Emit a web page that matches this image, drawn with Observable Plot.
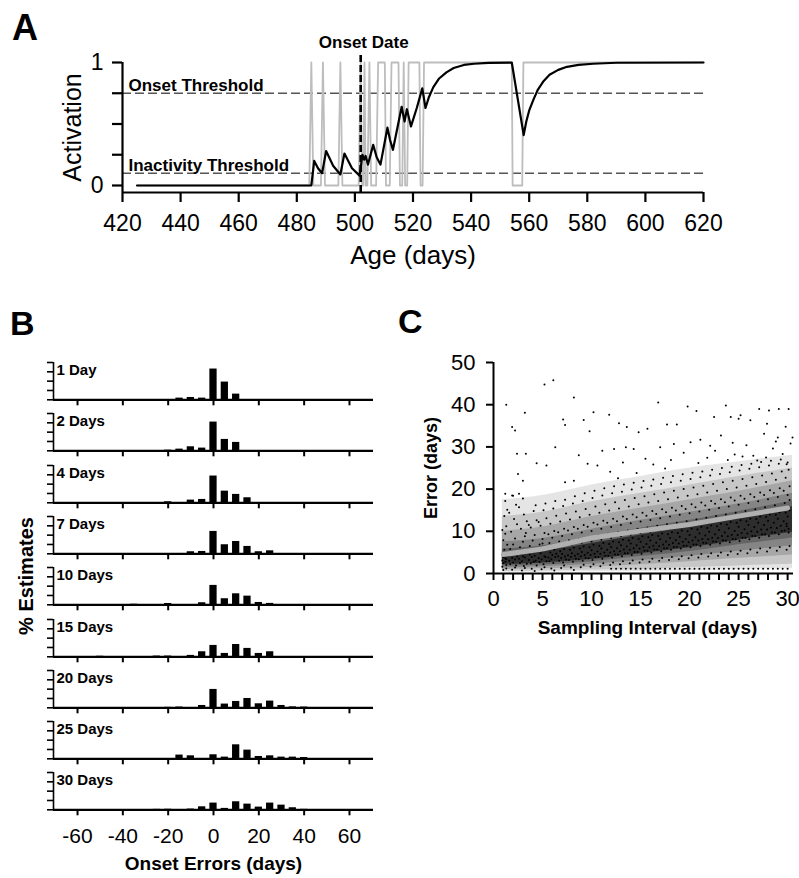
<!DOCTYPE html>
<html><head><meta charset="utf-8">
<script src="https://cdn.jsdelivr.net/npm/d3@7"></script>
<script src="https://cdn.jsdelivr.net/npm/@observablehq/plot@0.6"></script>
<style>
body{margin:0;background:#fff;}
#root{position:relative;width:799px;height:878px;overflow:hidden;font-family:"Liberation Sans",Arial,sans-serif;color:#000;}
.abs{position:absolute;}
.letter{position:absolute;font-weight:bold;line-height:1;white-space:nowrap;}
</style></head><body><div id="root"></div>
<script>
// ---------- Panel A data ----------
const grayAge = [425,484.3,485,485.7,488.3,489,489.7,494.3,495,495.7,501.3,502,502.5,502.9,503.3,503.7,504.3,505,505.6,507.3,508,510.3,510.7,512,512.6,515,515.5,516.3,516.8,517.3,518,518.5,522.2,522.6,523.3,523.8,554,554.3,557.6,558,620];
const grayActive = [0,0,1,0,0,1,0,0,1,0,0,1,0,0,1,0,0,1,0,0,1,1,0,0,1,1,0,0,1,0,0,1,1,0,0,1,1,0,0,1,1];
const blackAge = [425,485,486,487.3,488.7,490.1,492.5,495,496.4,499,501.6,502.6,503.2,503.7,504.5,506.3,507.5,508.8,511.2,512.1,513.1,516.1,517.1,517.9,519.3,521.3,523.2,524.3,525.5,527,529,531.5,534,537.5,541,546,554,558.1,559,560,561.5,563,565,567,570,573,577,582,590,620];
const blackActivation = [0,0,0.2,0.14,0.1,0.28,0.16,0.09,0.26,0.14,0.08,0.25,0.21,0.24,0.17,0.33,0.23,0.17,0.47,0.37,0.29,0.64,0.52,0.62,0.48,0.63,0.79,0.63,0.72,0.8,0.87,0.92,0.955,0.98,0.99,0.997,1,0.41,0.52,0.61,0.7,0.78,0.85,0.9,0.94,0.965,0.98,0.99,0.998,1];
const onsetThreshold = 0.75, inactivityThreshold = 0.1, onsetDate = 502;
const ageTicks = [420,440,460,480,500,520,540,560,580,600,620];
const activationTicks = [0,0.25,0.5,0.75,1];

// ---------- Panel B data ----------
const intervalLabels = ["1 Day","2 Days","4 Days","7 Days","10 Days","15 Days","20 Days","25 Days","30 Days"];
const errorBins = [-50,-45,-40,-35,-30,-25,-20,-15,-10,-5,0,5,10,15,20,25,30,35,40];
const pct1  = [0,0,0,0,0,0,0,1.8,2.5,1.8,33,19,6.1,0,0,0,0,0,0];
const pct2  = [0,0,0,0,0,0,0.7,1.8,4.3,2.9,30.8,12.2,9,0,0,0,0,0,0];
const pct4  = [0,0,0,0,0,0,1.1,0,2.9,3.6,28.7,12.5,9,5.4,0,0,0,0,0];
const pct7  = [0,0,0,0,0,0,0,0,2.2,2.5,24,9.7,13.2,7.9,2.2,3.2,0,0,0];
const pct10 = [0,0,0,0.6,0,0,1.4,0,0,2.2,20.8,6.5,11.8,9.3,2.5,1.5,0,0,0];
const pct15 = [0.6,0,0,0,0,0.8,0.8,0,1.5,5.4,12.2,3.6,13.2,9,3.6,5.4,0,0,0];
const pct20 = [0,0,0,0,0,0,0.5,0.8,0,2.5,19.7,4,6.8,10,4.3,7.2,2.5,1,0.8];
const pct25 = [0,0,0,0,0,0,0,4,3.2,0,4.3,1.8,15,9.3,2.5,3.2,1.8,1.8,1.4];
const pct30 = [0,0,0,0,0,0.5,0.6,0,0.8,3.2,7.2,1.5,8.6,6.1,2.9,7.2,5,2.2,0.5];
const pctRows = [pct1,pct2,pct4,pct7,pct10,pct15,pct20,pct25,pct30];
const errorTicks = [-60,-40,-20,0,20,40,60];
const pctTicks = [0,10,20,30,40];

// ---------- Panel C data ----------
const scatterPoints = `
0.9 3.1,1.0 2.4,1.1 4.2,1.2 3.6,1.3 2.0,1.4 4.8,1.0 3.9,1.2 2.8,1.3 3.4,0.9 1.6,1.1 5.6,1.4 6.8,1.0 7.9,1.2 9.4,1.3 11.2,1.1 13.6,0.9 10.3,1.4 15.1,1.0 0.8,1.3 1.2,1.2 17.2,
1.6 3.0,1.7 2.2,1.8 4.4,1.9 3.7,2.0 2.6,2.1 4.9,2.2 3.3,2.3 1.9,2.4 4.0,1.7 5.8,2.0 6.9,2.2 8.3,1.8 9.9,2.4 11.7,2.1 12.9,1.6 14.4,2.3 16.3,1.9 0.9,2.2 1.4,2.0 18.4,
2.6 3.5,2.7 2.5,2.8 4.6,2.9 2.9,3.0 4.1,3.1 1.8,3.2 3.8,3.3 5.0,3.4 2.3,2.7 6.2,3.0 7.5,3.2 8.8,2.8 10.6,3.4 12.4,3.1 14.0,2.6 15.7,3.3 9.6,2.9 0.7,3.2 1.3,3.0 17.8,
3.6 3.2,3.7 4.5,3.8 2.4,3.9 3.9,4.0 5.1,4.1 2.8,4.2 4.2,4.3 3.0,4.4 1.9,3.7 6.5,4.0 7.8,4.2 9.1,3.8 10.9,4.4 12.6,4.1 14.8,3.6 11.5,4.3 16.2,3.9 1.1,4.2 0.6,4.0 5.8,
4.6 3.6,4.7 2.7,4.8 4.8,4.9 3.3,5.0 5.3,5.1 2.2,5.2 4.1,5.3 3.9,5.4 2.9,4.7 6.9,5.0 8.2,5.2 9.6,4.8 11.3,5.4 13.1,5.1 15.0,4.6 12.2,5.3 16.6,4.9 1.0,5.2 1.5,5.0 7.1,
5.6 3.8,5.7 2.9,5.8 5.0,5.9 3.4,6.0 4.4,6.1 2.5,6.2 5.6,6.3 3.9,6.4 4.7,5.7 7.2,6.0 8.5,6.2 10.1,5.8 11.8,6.4 13.7,6.1 15.4,5.6 9.3,6.3 17.2,5.9 1.2,6.2 0.7,6.0 6.3,
6.6 4.1,6.7 3.0,6.8 5.3,6.9 3.7,7.0 4.6,7.1 2.6,7.2 5.8,7.3 4.0,7.4 3.3,6.7 7.6,7.0 8.9,7.2 10.6,6.8 12.3,7.4 14.2,7.1 16.0,6.6 9.8,7.3 17.5,6.9 1.3,7.2 1.9,7.0 6.6,
7.6 4.3,7.7 3.2,7.8 5.6,7.9 3.9,8.0 4.8,8.1 2.8,8.2 6.1,8.3 4.2,8.4 3.5,7.7 7.9,8.0 9.3,8.2 11.0,7.8 12.8,8.4 14.7,8.1 16.6,7.6 10.2,8.3 18.3,7.9 1.4,8.2 0.8,8.0 6.9,
8.6 4.6,8.7 3.4,8.8 5.9,8.9 4.1,9.0 5.1,9.1 3.0,9.2 6.4,9.3 4.4,9.4 3.7,8.7 8.2,9.0 9.7,9.2 11.5,8.8 13.3,9.4 15.3,9.1 17.2,8.6 10.6,9.3 19.0,8.9 1.5,9.2 2.1,9.0 7.3,
9.6 4.9,9.7 3.6,9.8 6.2,9.9 4.4,10.0 5.5,10.1 3.2,10.2 6.8,10.3 4.7,10.4 3.9,9.7 8.6,10.0 10.1,10.2 12.0,9.8 13.9,10.4 15.9,10.1 17.9,9.6 11.1,10.3 19.6,9.9 1.6,10.2 2.2,10.0 7.6,
10.6 5.2,10.7 3.9,10.8 6.6,10.9 4.7,11.0 5.9,11.1 3.5,11.2 7.2,11.3 5.0,11.4 4.2,10.7 9.0,11.0 10.6,11.2 12.5,10.8 14.4,11.4 16.4,11.1 18.5,10.6 11.6,11.3 20.2,10.9 1.7,11.2 2.4,11.0 8.0,
11.6 5.6,11.7 4.2,11.8 7.0,11.9 5.0,12.0 6.3,12.1 3.8,12.2 7.6,12.3 5.3,12.4 4.5,11.7 9.4,12.0 11.0,12.2 13.0,11.8 14.9,12.4 16.9,12.1 19.0,11.6 12.0,12.3 20.7,11.9 2.0,12.2 2.6,12.0 8.4,
12.6 6.0,12.7 4.5,12.8 7.4,12.9 5.3,13.0 6.7,13.1 4.1,13.2 8.0,13.3 5.7,13.4 4.8,12.7 9.8,13.0 11.5,13.2 13.5,12.8 15.4,13.4 17.4,13.1 19.4,12.6 12.4,13.3 21.1,12.9 2.2,13.2 2.9,13.0 8.8,
13.6 6.4,13.7 4.8,13.8 7.8,13.9 5.6,14.0 7.1,14.1 4.4,14.2 8.4,14.3 6.0,14.4 5.1,13.7 10.2,14.0 11.9,14.2 14.0,13.8 15.9,14.4 17.9,14.1 19.9,13.6 12.9,14.3 21.5,13.9 2.4,14.2 3.1,14.0 9.2,
14.6 6.7,14.7 5.1,14.8 8.2,14.9 5.9,15.0 7.5,15.1 4.7,15.2 8.8,15.3 6.3,15.4 5.4,14.7 10.6,15.0 12.3,15.2 14.4,14.8 16.4,15.4 18.3,15.1 20.4,14.6 13.3,15.3 21.9,14.9 2.6,15.2 3.3,15.0 9.6,
15.6 7.0,15.7 5.4,15.8 8.6,15.9 6.2,16.0 7.8,16.1 5.0,16.2 9.1,16.3 6.6,16.4 5.7,15.7 10.9,16.0 12.7,16.2 14.8,15.8 16.8,16.4 18.8,16.1 20.8,15.6 13.7,16.3 22.3,15.9 2.8,16.2 3.5,16.0 9.9,
16.6 7.3,16.7 5.7,16.8 8.9,16.9 6.5,17.0 8.1,17.1 5.3,17.2 9.5,17.3 6.9,17.4 6.0,16.7 11.3,17.0 13.1,17.2 15.2,16.8 17.2,17.4 19.2,17.1 21.2,16.6 14.1,17.3 22.7,16.9 3.0,17.2 3.7,17.0 10.3,
17.6 7.6,17.7 6.0,17.8 9.3,17.9 6.8,18.0 8.4,18.1 5.6,18.2 9.8,18.3 7.2,18.4 6.3,17.7 11.7,18.0 13.5,18.2 15.6,17.8 17.6,18.4 19.6,18.1 21.6,17.6 14.5,18.3 23.1,17.9 3.2,18.2 3.9,18.0 10.6,
18.6 7.9,18.7 6.3,18.8 9.6,18.9 7.1,19.0 8.7,19.1 5.9,19.2 10.2,19.3 7.5,19.4 6.6,18.7 12.0,19.0 13.9,19.2 16.0,18.8 18.0,19.4 20.0,19.1 22.0,18.6 14.9,19.3 23.5,18.9 3.4,19.2 4.1,19.0 11.0,
19.6 8.2,19.7 6.6,19.8 10.0,19.9 7.4,20.0 9.1,20.1 6.2,20.2 10.6,20.3 7.8,20.4 6.9,19.7 12.4,20.0 14.3,20.2 16.4,19.8 18.4,20.4 20.4,20.1 22.4,19.6 15.3,20.3 23.9,19.9 3.6,20.2 4.3,20.0 11.3,
20.6 8.6,20.7 6.9,20.8 10.4,20.9 7.8,21.0 9.5,21.1 6.5,21.2 11.0,21.3 8.2,21.4 7.3,20.7 12.8,21.0 14.7,21.2 16.8,20.8 18.8,21.4 20.8,21.1 22.8,20.6 15.7,21.3 24.2,20.9 3.8,21.2 4.6,21.0 11.7,
21.6 9.0,21.7 7.2,21.8 10.8,21.9 8.1,22.0 9.9,22.1 6.8,22.2 11.4,22.3 8.5,22.4 7.6,21.7 13.2,22.0 15.1,22.2 17.2,21.8 19.2,22.4 21.2,22.1 23.2,21.6 16.1,22.3 24.6,21.9 4.0,22.2 4.8,22.0 12.1,
22.6 9.3,22.7 7.5,22.8 11.2,22.9 8.4,23.0 10.3,23.1 7.1,23.2 11.8,23.3 8.9,23.4 7.9,22.7 13.6,23.0 15.5,23.2 17.6,22.8 19.6,23.4 21.6,23.1 23.6,22.6 16.5,23.3 25.0,22.9 4.2,23.2 5.0,23.0 12.5,
23.6 9.7,23.7 7.8,23.8 11.6,23.9 8.8,24.0 10.7,24.1 7.4,24.2 12.2,24.3 9.2,24.4 8.2,23.7 14.0,24.0 15.9,24.2 18.0,23.8 20.0,24.4 22.0,24.1 24.0,23.6 16.9,24.3 25.3,23.9 4.4,24.2 5.2,24.0 12.9,
24.6 10.1,24.7 8.1,24.8 12.0,24.9 9.1,25.0 11.1,25.1 7.7,25.2 12.6,25.3 9.6,25.4 8.5,24.7 14.4,25.0 16.3,25.2 18.4,24.8 20.4,25.4 22.4,25.1 24.4,24.6 17.3,25.3 25.7,24.9 4.6,25.2 5.4,25.0 13.3,
25.6 10.5,25.7 8.5,25.8 12.4,25.9 9.5,26.0 11.5,26.1 8.1,26.2 13.0,26.3 10.0,26.4 8.9,25.7 14.8,26.0 16.7,26.2 18.8,25.8 20.8,26.4 22.8,26.1 24.8,25.6 17.7,26.3 26.0,25.9 4.8,26.2 5.7,26.0 13.7,
26.6 11.0,26.7 8.9,26.8 12.9,26.9 9.9,27.0 12.0,27.1 8.5,27.2 13.5,27.3 10.4,27.4 9.3,26.7 15.2,27.0 17.1,27.2 19.2,26.8 21.2,27.4 23.2,27.1 25.2,26.6 18.1,27.3 26.4,26.9 5.0,27.2 5.9,27.0 14.1,
27.6 11.5,27.7 9.3,27.8 13.4,27.9 10.4,28.0 12.5,28.1 8.9,28.2 14.0,28.3 10.9,28.4 9.7,27.7 15.7,28.0 17.6,28.2 19.7,27.8 21.7,28.4 23.7,28.1 25.6,27.6 18.6,28.3 26.7,27.9 5.2,28.2 6.1,28.0 14.6,
28.6 12.0,28.7 9.7,28.8 13.9,28.9 10.8,29.0 13.0,29.1 9.3,29.2 14.5,29.3 11.3,29.4 10.1,28.7 16.2,29.0 18.1,29.2 20.2,28.8 22.2,29.4 24.2,29.1 26.0,28.6 19.1,29.3 27.0,28.9 5.4,29.2 6.3,29.0 15.1,
29.6 12.4,29.7 10.2,29.8 14.4,29.9 11.2,30.0 13.5,30.1 9.7,30.2 15.0,29.9 11.8,30.1 10.6,29.7 16.7,30.0 18.6,30.2 20.7,29.8 22.7,30.1 24.6,30.0 26.3,29.6 19.6,30.2 17.4,29.9 5.6,30.2 6.5,30.0 15.6`;
const outlierPoints = `1.3 40.0,6.1 45.8,5.2 44.8,8.2 41.7,16.8 40.5,19.8 39.6,20.7 38.5,23.7 39.8,27.1 39.0,28.1 38.6,29.1 39.0,30.1 39.0,3.2 38.1,10.2 38.2,1.9 34.7,2.2 33.9,9.2 36.4,7.1 36.5,7.3 35.2,9.8 33.7,11.8 37.6,12.8 35.6,13.6 34.7,14.8 33.5,15.7 34.3,17.7 35.3,18.7 35.3,22.5 37.1,24.2 37.1,25.0 36.7,25.2 37.5,26.2 36.3,27.9 35.5,29.8 34.8,30.5 32.2,29.0 32.2,27.6 33.1,23.2 32.7,21.1 31.7,20.1 31.1,18.4 30.7,17.0 29.9,14.3 29.5,13.5 29.9,12.3 29.5,11.1 29.1,8.7 28.0,6.3 29.9,2.4 28.4,3.3 28.4,4.4 26.1,5.4 25.6,3.0 22.0,2.5 23.6,1.2 18.9,1.9 18.5,2.6 18.9,7.3 21.6,8.2 22.0,9.6 26.0,10.6 25.6,15.5 27.2,16.3 25.8,19.4 28.6,21.8 27.4,22.6 29.1,24.6 28.2,25.8 30.4,26.5 27.9,28.5 29.6,29.5 28.3,30.3 30.8,23.9 26.9,20.9 26.2,18.1 26.9,13.2 26.3,11.9 24.1,14.6 23.8,12.7 22.6,17.5 24.9,27.8 27.5,29.9 25.9,26.9 26.8,25.4 27.7,28.8 31.3,24.4 31.0,22.1 30.3`;
const floorX = [12,12.5,13,13.5,14,14.5,15,15.5,16,16.5,17,17.5,18,18.5,19,19.5,20,20.5,21,21.5,22,22.5,23,23.5,24,24.5,25,25.5,26,26.5,27,27.5,28,28.5,29,29.5,30];
const floorError = 1.1;
const fitInterval = [1,5,10,15,20,25,30];
const fitError = [4.5,5.8,8.4,10.1,11.6,13.6,15.5];
// nested density envelopes of the point cloud, outer to inner
const bandInterval = [0.9,5,10,15,20,25,30.5];
const envLow = [
  [0.3,0.3,0.4,0.5,0.7,0.9,1.1],
  [0.5,0.6,0.8,1.0,1.4,1.8,2.2],
  [0.9,1.1,1.5,2.1,2.8,3.6,4.4],
  [1.3,1.6,2.2,3.1,4.1,5.3,6.6],
  [1.7,2.0,2.8,4.0,5.2,6.8,8.4],
  [2.1,2.5,3.3,4.7,6.1,7.9,9.8]
];
const envHigh = [
  [17.5,18.5,21,23,25,26.5,28],
  [13.5,14.5,17,19,21,23,25],
  [10,11,13.5,15.5,17.5,19.5,22],
  [7.5,8.3,10.5,12.6,14.5,16.5,19],
  [5.8,6.6,8.6,10.7,12.6,14.7,17.2],
  [4.6,5.3,7.1,9.1,11.0,13.2,15.8]
];
const envOpacity = [0.1,0.13,0.16,0.2,0.24,0.55];
const intervalTicks = [0,1,2,3,4,5,6,7,8,9,10,11,12,13,14,15,16,17,18,19,20,21,22,23,24,25,26,27,28,29,30];
const errorAxisTicks = [0,10,20,30,40,50];

// ---------- helpers ----------
const FONT = "Liberation Sans, Arial, sans-serif";
const baseStyle = {background:"transparent", fontFamily:FONT, fontSize:"22px", color:"black", overflow:"visible"};
const root = document.getElementById("root");
function place(node, left, top){ const d=document.createElement("div"); d.className="abs"; d.style.left=left+"px"; d.style.top=top+"px"; d.appendChild(node); root.appendChild(d); return d; }
function letter(txt, left, baseline, size){ const d=document.createElement("div"); d.className="letter"; d.textContent=txt; d.style.fontSize=size+"px"; d.style.left=left+"px"; d.style.top=(baseline-0.8465*size)+"px"; root.appendChild(d); }
const parsePairs = s => s.trim().split(/,\s*/).map(p => { const [x,y]=p.trim().split(/\s+/).map(Number); return {x,y}; });

// ---------- Panel A ----------
const yMinA = -0.057;
const grayData = grayAge.map((a,i)=>({age:a, v:grayActive[i]}));
const blackData = blackAge.map((a,i)=>({age:a, v:blackActivation[i]}));
const plotA = Plot.plot({
  width:799, height:275, marginTop:62, marginLeft:122, marginRight:96, marginBottom:83,
  x:{domain:[420,620]}, y:{domain:[yMinA,1]}, style:{...baseStyle, fontSize:"23px"},
  marks:[
    Plot.ruleY([onsetThreshold],{x1:420,x2:620.7,stroke:"#555",strokeWidth:1.3,strokeDasharray:"9,4"}),
    Plot.ruleY([inactivityThreshold],{x1:420,x2:620.7,stroke:"#555",strokeWidth:1.5,strokeDasharray:"9,4"}),
    Plot.line(grayData,{x:"age",y:"v",stroke:"#bdbdbd",strokeWidth:1.8}),
    Plot.line(blackData,{x:"age",y:"v",stroke:"black",strokeWidth:2.2}),
    Plot.ruleX([onsetDate],{y1:yMinA,y2:1.08,stroke:"black",strokeWidth:2.6,strokeDasharray:"7,3"}),
    Plot.ruleY([yMinA],{x1:420,x2:620,stroke:"black",strokeWidth:2.2}),
    Plot.ruleX([420],{y1:yMinA,y2:1,stroke:"black",strokeWidth:2.2}),
    Plot.axisX({ticks:ageTicks, tickSize:10, tickPadding:12, strokeWidth:2.2, tickFormat:d=>String(d), label:null}),
    Plot.axisY({ticks:activationTicks, tickSize:10, tickPadding:9, strokeWidth:2.2, tickFormat:d=>(d===0||d===1)?String(d):"", label:null}),
    Plot.text(["Onset Threshold"],{x:420,y:onsetThreshold,dx:6,dy:-8.2,textAnchor:"start",fontWeight:"bold",fontSize:17}),
    Plot.text(["Inactivity Threshold"],{x:420,y:inactivityThreshold,dx:6,dy:-8.1,textAnchor:"start",fontWeight:"bold",fontSize:17}),
    Plot.text(["Onset Date"],{x:onsetDate,y:1,dx:3,dy:-20.4,fontWeight:"bold",fontSize:17}),
    Plot.text(["Activation"],{frameAnchor:"left",dx:-49.5,rotate:-90,textAnchor:"middle",lineAnchor:"middle",fontSize:25}),
    Plot.text(["Age (days)"],{frameAnchor:"bottom",dy:62.7,textAnchor:"middle",lineAnchor:"middle",fontSize:26})
  ]
});
place(plotA, 0, 0);
letter("A", 12, 40, 36);

// ---------- Panel B ----------
letter("B", 10, 335, 34);
const rowBase0 = 399.3, rowStep = 51.3, rowPlotH = 37.3;
intervalLabels.forEach((lab,i)=>{
  const last = i===intervalLabels.length-1;
  const h = last ? 112 : 56;
  const rows = errorBins.map((e,j)=>({e, p:pctRows[i][j]})).filter(d=>d.p>0);
  const marks = [
    Plot.rectY(rows,{x1:d=>d.e-1.6, x2:d=>d.e+1.6, y1:0, y2:"p", fill:"black"}),
    Plot.ruleY([0],{x1:-70.6,x2:70.6,stroke:"black",strokeWidth:2.2}),
    Plot.ruleX([-70.6],{y1:0,y2:40,stroke:"black",strokeWidth:1.6}),
    Plot.axisY({ticks:pctTicks, tickSize:6, strokeWidth:1.6, tickFormat:()=>"", label:null}),
    Plot.axisX({ticks:errorTicks, tickSize:6, strokeWidth:2, tickPadding:12, fontSize:21, tickFormat: last ? (d=>String(d)) : (()=>""), label:null}),
    Plot.text([lab],{frameAnchor:"top-left",dx:3,dy:2.3,lineAnchor:"top",fontWeight:"bold",fontSize:15})
  ];
  if (last) marks.push(Plot.text(["Onset Errors (days)"],{frameAnchor:"bottom",dy:54.3,textAnchor:"middle",lineAnchor:"middle",fontWeight:"bold",fontSize:19}));
  const p = Plot.plot({
    width:400, height:h, marginTop:5, marginLeft:53, marginRight:27, marginBottom:h-5-rowPlotH,
    x:{domain:[-70.6,70.6]}, y:{domain:[0,40]}, style:baseStyle, marks
  });
  place(p, 0, rowBase0 + rowStep*i - 5 - rowPlotH);
});
{
  const d=document.createElement("div");
  d.className="letter"; d.textContent="% Estimates"; d.style.fontSize="20px";
  d.style.left="25.5px"; d.style.top="576px"; d.style.transform="translate(-50%,-50%) rotate(-90deg)";
  root.appendChild(d);
}

// ---------- Panel C ----------
letter("C", 398, 333, 34);
const scatter = parsePairs(scatterPoints).concat(parsePairs(outlierPoints), floorX.map(x=>({x,y:floorError})));
const fit = fitInterval.map((x,i)=>({x,y:fitError[i]}));
const envMarks = envLow.map((lo,k)=>Plot.areaY(bandInterval.map((x,i)=>({x, lo:lo[i], hi:envHigh[k][i]})),
  {x:"x",y1:"lo",y2:"hi",fill:"black",fillOpacity:envOpacity[k],curve:"catmull-rom"}));
const plotC = Plot.plot({
  width:399, height:310, marginTop:22, marginLeft:93, marginRight:6, marginBottom:77,
  x:{domain:[0,30.6]}, y:{domain:[0,50]}, style:baseStyle,
  marks:[
    ...envMarks,
    Plot.dot(scatter,{x:"x",y:"y",r:1,fill:"black",stroke:"none"}),
    Plot.line(fit,{x:"x",y:"y",stroke:"#b0b0b0",strokeWidth:5}),
    Plot.ruleY([0],{x1:0,x2:30.6,stroke:"black",strokeWidth:2}),
    Plot.ruleX([0],{y1:0,y2:50,stroke:"black",strokeWidth:2}),
    Plot.axisX({ticks:intervalTicks, tickSize:7, tickPadding:10, strokeWidth:2, tickFormat:d=>d%5===0?String(d):"", label:null}),
    Plot.axisY({ticks:errorAxisTicks, tickSize:7, tickPadding:11, strokeWidth:2, tickFormat:d=>String(d), label:null}),
    Plot.text(["Error (days)"],{frameAnchor:"left",dx:-62,rotate:-90,textAnchor:"middle",lineAnchor:"middle",fontWeight:"bold",fontSize:18}),
    Plot.text(["Sampling Interval (days)"],{frameAnchor:"bottom",dx:4,dy:54,textAnchor:"middle",lineAnchor:"middle",fontWeight:"bold",fontSize:19})
  ]
});
place(plotC, 400, 340);
</script></body></html>
